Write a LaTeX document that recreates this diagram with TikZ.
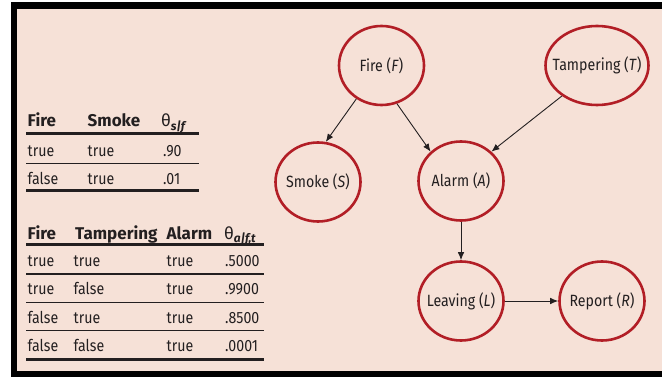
\documentclass[tikz,border=0pt]{standalone}
\usepackage{fontspec}
\setmainfont{Fira Sans}[FakeStretch=0.87]
\newfontfamily\headfont{Fira Sans}
\usetikzlibrary{shapes.geometric,arrows.meta}
\definecolor{bgpink}{HTML}{F6E1D7}
\definecolor{netred}{HTML}{B21E26}
\definecolor{ink}{HTML}{231F20}
\begin{document}
\begin{tikzpicture}[x=1pt,y=-1pt,
  var/.style={ellipse, draw=netred, line width=2.6pt, minimum width=85pt, minimum height=79pt, inner xsep=-8pt, inner ysep=1pt, text=ink, font=\fontsize{16.3}{18}\selectfont},
  edge/.style={draw=ink, line width=0.9pt, -{Latex[length=8pt,width=6.5pt]}},
  cell/.style={anchor=base west, inner sep=0pt, text=ink, font=\fontsize{16.3}{18}\selectfont},
  head/.style={cell, font=\fontsize{17}{19}\headfont\bfseries},
  heavy/.style={draw=ink, line width=3pt},
  light/.style={draw=ink, line width=1.1pt}]
\useasboundingbox (0,0) rectangle (662,379);
% frame
\fill[white] (0,0) rectangle (662,379);
\fill[black] (11,2.5) rectangle (662,377);
\fill[bgpink] (17,8.7) rectangle (662,371.5);

% network
\node[var] (fire) at (381.5,65.5) {Fire (\textit{F})};
\node[var, minimum width=103pt] (tamper) at (597,65.5) {Tampering (\textit{T})};
\node[var] (smoke) at (318,182) {Smoke (\textit{S})};
\node[var] (alarm) at (461,181) {Alarm (\textit{A})};
\node[var] (leave) at (461,301) {Leaving (\textit{L})};
\node[var] (report) at (602,301) {Report (\textit{R})};
\draw[edge] (fire.233) -- (smoke.79);
\draw[edge] (fire.292) -- (alarm.136);
\draw[edge] (tamper.221) -- (alarm.44);
\draw[edge] (alarm) -- (leave);
\draw[edge] (leave) -- (report);

% table for smoke
\node[head] (sh1) at (27.5,126.7) {Fire};
\node[head] (sh2) at (87.5,126.7) {Smoke};
\node[head] (sh3) at (161,126.7) {\mdseries θ\textsubscript{\bfseries\itshape s|f}};
\node[cell] (s11) at (27.5,156.7) {true};
\node[cell] (s12) at (87.5,156.7) {true};
\node[cell] (s13) at (163,156.7) {.90};
\node[cell] (s21) at (27.5,185) {false};
\node[cell] (s22) at (87.5,185) {true};
\node[cell] (s23) at (163,185) {.01};
\draw[heavy] (26,133.8) -- (199,133.8);
\draw[light] (26,163.3) -- (199,163.3);
\draw[heavy] (26,190.7) -- (199,190.7);

% table for alarm
\node[head] (ah1) at (27.5,239.3) {Fire};
\node[head] (ah2) at (75,239.3) {Tampering};
\node[head] (ah3) at (166.5,239.3) {Alarm};
\node[head] (ah4) at (224,239.3) {\mdseries θ\textsubscript{\bfseries\itshape a|f,t}};
\node[cell] (a11) at (27.5,266.7) {true};
\node[cell] (a12) at (73.5,266.7) {true};
\node[cell] (a13) at (166.5,266.7) {true};
\node[cell] (a14) at (225,266.7) {.5000};
\node[cell] (a21) at (27.5,295) {true};
\node[cell] (a22) at (73.5,295) {false};
\node[cell] (a23) at (166.5,295) {true};
\node[cell] (a24) at (225,295) {.9900};
\node[cell] (a31) at (27.5,323.3) {false};
\node[cell] (a32) at (73.5,323.3) {true};
\node[cell] (a33) at (166.5,323.3) {true};
\node[cell] (a34) at (225,323.3) {.8500};
\node[cell] (a41) at (27.5,351.7) {false};
\node[cell] (a42) at (73.5,351.7) {false};
\node[cell] (a43) at (166.5,351.7) {true};
\node[cell] (a44) at (225,351.7) {.0001};
\draw[heavy] (26,244.5) -- (263.5,244.5);
\draw[light] (26,274) -- (263.5,274);
\draw[light] (26,302.3) -- (263.5,302.3);
\draw[light] (26,330.5) -- (263.5,330.5);
\draw[heavy] (26,359.3) -- (263.5,359.3);
\end{tikzpicture}
\end{document}
